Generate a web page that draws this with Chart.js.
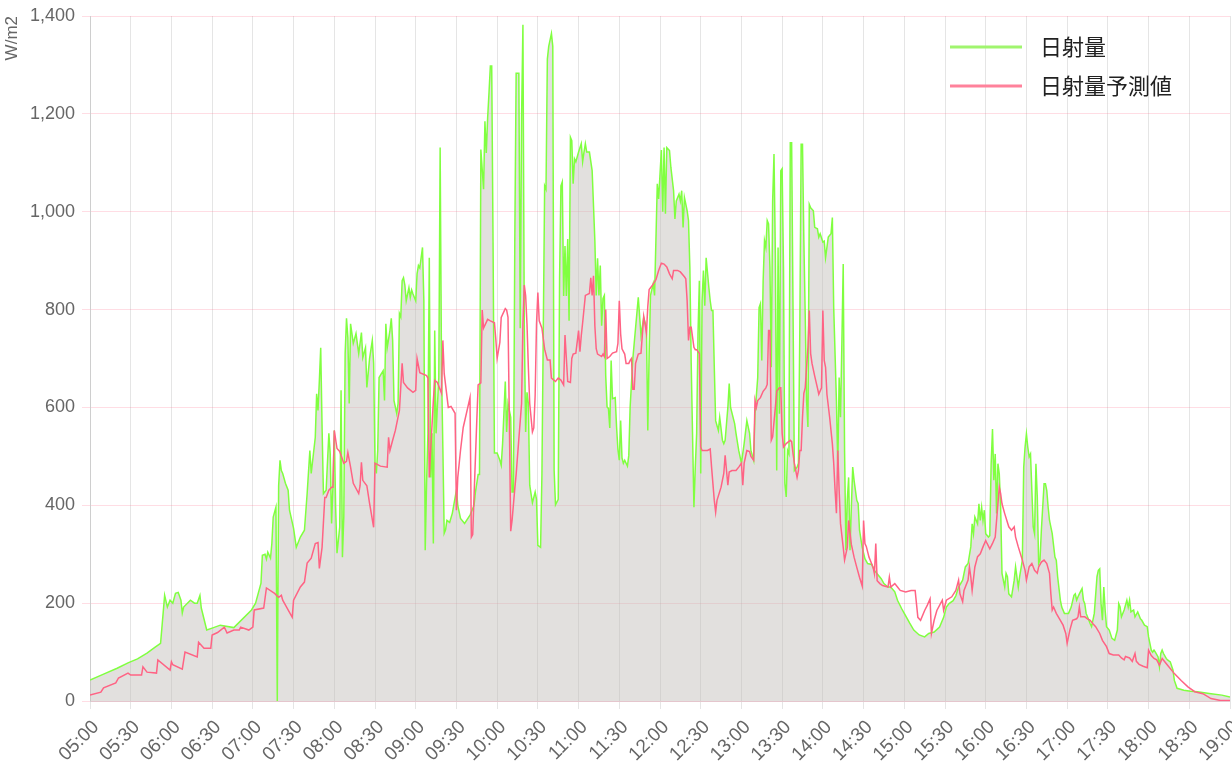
<!DOCTYPE html>
<html lang="ja">
<head>
<meta charset="utf-8">
<title>日射量</title>
<script src="https://cdn.jsdelivr.net/npm/chart.js@4.4.1/dist/chart.umd.min.js"></script>
<style>
  html, body { margin: 0; padding: 0; background: #fff; }
</style>
</head>
<body>
<canvas id="chart" width="1232" height="773"></canvas>
<script>
// ---- données ----
const xTickLabels = ['05:00','05:30','06:00','06:30','07:00','07:30','08:00','08:30','09:00','09:30',
  '10:00','10:30','11:00','11:30','12:00','12:30','13:00','13:30','14:00','14:30',
  '15:00','15:30','16:00','16:30','17:00','17:30','18:00','18:30','19:00'];
const yTickValues = [0, 200, 400, 600, 800, 1000, 1200, 1400];

// 日射量 (mesure)
const measuredTimes = [
  '05:00','05:10','05:20','05:28','05:35','05:42','05:48','05:52','05:55','05:57','05:59','06:01','06:03','06:05','06:07','06:08',
  '06:09','06:14','06:17','06:19','06:21','06:22','06:26','06:30','06:36','06:46','06:59','07:02','07:06','07:07','07:09','07:10',
  '07:11','07:13','07:14','07:15','07:17','07:18','07:19','07:20','07:21','07:22','07:24','07:26','07:27','07:30','07:32','07:35',
  '07:38','07:40','07:42','07:43','07:46','07:47','07:48','07:49','07:50','07:51','07:52','07:54','07:56','07:57','07:58','07:59',
  '08:00','08:01','08:02','08:04','08:05','08:06','08:07','08:08','08:09','08:10','08:11','08:12','08:14','08:16','08:18','08:20',
  '08:21','08:23','08:24','08:26','08:28','08:29','08:30','08:31','08:32','08:33','08:36','08:37','08:38','08:39','08:41','08:42',
  '08:43','08:44','08:46','08:47','08:48','08:49','08:50','08:51','08:52','08:53','08:55','08:56','08:57','08:58','09:00','09:01',
  '09:02','09:03','09:05','09:06','09:07','09:08','09:09','09:10','09:11','09:12','09:13','09:14','09:15','09:17','09:18','09:19',
  '09:20','09:21','09:22','09:23','09:25','09:27','09:30','09:31','09:33','09:36','09:40','09:43','09:44','09:46','09:47','09:48',
  '09:50','09:51','09:52','09:53','09:54','09:55','09:56','09:57','09:58','10:00','10:02','10:03','10:04','10:06','10:07','10:08',
  '10:10','10:11','10:12','10:13','10:14','10:16','10:17','10:18','10:19','10:20','10:21','10:22','10:23','10:24','10:26','10:28',
  '10:29','10:30','10:32','10:33','10:35','10:36','10:37','10:38','10:40','10:41','10:42','10:43','10:45','10:46','10:47','10:48',
  '10:49','10:50','10:51','10:52','10:53','10:54','10:55','10:56','10:57','10:58','11:00','11:02','11:03','11:04','11:05','11:06',
  '11:08','11:10','11:12','11:13','11:14','11:15','11:16','11:17','11:18','11:19','11:20','11:21','11:22','11:23','11:24','11:25',
  '11:27','11:28','11:29','11:30','11:31','11:32','11:33','11:34','11:36','11:37','11:38','11:40','11:44','11:46','11:48','11:50',
  '11:51','11:52','11:53','11:55','11:56','11:58','11:59','12:01','12:02','12:03','12:04','12:05','12:07','12:08','12:10','12:11',
  '12:12','12:14','12:15','12:16','12:17','12:18','12:20','12:21','12:22','12:23','12:25','12:26','12:27','12:28','12:29','12:30',
  '12:31','12:32','12:33','12:34','12:36','12:37','12:38','12:39','12:40','12:41','12:43','12:44','12:46','12:47','12:48','12:50',
  '12:51','12:52','12:55','12:56','12:58','13:00','13:02','13:04','13:06','13:07','13:09','13:10','13:12','13:13','13:14','13:15',
  '13:16','13:17','13:18','13:19','13:20','13:21','13:22','13:23','13:24','13:25','13:26','13:27','13:28','13:29','13:30','13:31',
  '13:32','13:33','13:34','13:35','13:36','13:37','13:38','13:39','13:41','13:42','13:43','13:44','13:45','13:46','13:47','13:48',
  '13:49','13:50','13:51','13:53','13:54','13:56','13:57','13:58','14:00','14:01','14:02','14:04','14:06','14:07','14:08','14:10',
  '14:11','14:12','14:13','14:14','14:15','14:16','14:17','14:18','14:19','14:20','14:21','14:22','14:23','14:25','14:26','14:27',
  '14:29','14:31','14:33','14:36','14:38','14:40','14:43','14:45','14:48','14:50','14:53','14:55','14:58','15:00','15:04','15:07',
  '15:11','15:15','15:18','15:22','15:26','15:29','15:31','15:33','15:36','15:38','15:40','15:43','15:45','15:47','15:49','15:50',
  '15:51','15:52','15:54','15:55','15:56','15:57','15:58','15:59','16:00','16:02','16:03','16:04','16:05','16:06','16:07','16:08',
  '16:09','16:10','16:11','16:12','16:14','16:15','16:16','16:17','16:19','16:21','16:22','16:24','16:25','16:27','16:28','16:29',
  '16:30','16:31','16:32','16:33','16:35','16:36','16:37','16:38','16:39','16:40','16:41','16:43','16:44','16:45','16:46','16:47',
  '16:49','16:51','16:52','16:53','16:55','16:56','16:58','17:01','17:03','17:05','17:06','17:07','17:08','17:09','17:11','17:12',
  '17:13','17:14','17:15','17:17','17:18','17:20','17:22','17:23','17:24','17:25','17:26','17:27','17:28','17:29','17:31','17:33',
  '17:35','17:37','17:38','17:39','17:40','17:42','17:44','17:45','17:46','17:47','17:49','17:50','17:52','17:54','17:55','17:57',
  '17:59','18:00','18:02','18:03','18:04','18:05','18:07','18:08','18:09','18:10','18:11','18:13','18:14','18:16','18:18','18:19',
  '18:21','18:26','18:31','18:36','18:41','18:46','18:54','19:00'
];
const measuredValues = [
  43,55,67,78,86,98,110,118,216,192,206,200,220,222,206,180,
  192,206,200,200,216,190,145,149,155,150,186,200,241,298,300,290,
  304,292,322,376,396,0,440,492,471,465,445,431,390,353,314,335,
  349,424,512,465,539,628,594,655,722,560,424,431,547,506,363,437,
  553,396,302,355,635,294,376,710,782,743,608,771,731,751,710,753,
  702,722,641,700,737,690,486,465,512,661,675,614,771,722,757,782,
  737,614,588,608,792,785,859,865,850,818,845,825,840,832,818,873,
  890,885,927,818,308,445,547,906,457,547,322,757,547,661,1131,682,
  518,343,350,369,365,384,431,400,373,363,380,400,427,463,463,1127,
  1046,1185,1120,1192,1243,1298,1298,930,507,507,492,482,525,653,550,608,
  580,427,427,937,1283,1283,762,1192,1382,769,550,631,608,441,405,427,
  412,318,314,463,1053,1046,1312,1338,1364,1338,471,401,412,864,1053,1061,
  828,930,828,944,777,1152,1145,1057,1108,1102,1122,1139,1102,1122,1139,1122,
  1122,1084,941,829,905,829,890,767,823,829,665,601,598,558,696,618,
  620,560,514,492,573,497,486,492,480,502,601,700,825,747,784,763,
  553,710,829,853,829,1057,1026,1126,1000,1131,996,1131,1125,1091,1043,985,
  1022,1036,1022,1043,968,1029,1002,982,886,690,396,478,547,751,859,465,
  818,880,808,906,845,818,798,798,682,573,553,580,533,526,533,600,
  649,600,567,547,512,486,526,573,547,512,492,587,661,804,812,696,
  859,941,927,982,975,886,682,1022,1118,913,471,927,587,1084,1088,886,
  445,417,512,505,1141,1141,808,471,478,486,751,1138,1138,941,791,614,
  560,1015,1008,1002,968,965,948,955,938,940,906,948,955,988,804,614,
  478,661,580,730,893,512,308,410,457,308,396,478,451,410,404,349,
  314,291,281,279,267,260,250,240,233,233,223,206,189,179,159,145,
  135,131,138,141,151,171,192,199,205,215,233,247,274,281,315,362,
  342,376,362,403,369,396,369,390,342,335,338,485,556,451,505,383,
  485,464,396,261,233,261,254,219,213,247,274,233,254,288,478,519,
  546,519,499,505,356,342,485,417,281,288,349,444,444,430,396,369,
  342,294,288,254,206,192,179,179,192,216,219,206,213,219,230,206,
  199,179,172,158,152,179,254,267,270,199,165,233,186,152,145,128,
  124,145,199,192,172,186,206,192,206,182,186,172,182,168,165,155,
  152,131,104,100,104,100,90,70,97,104,97,87,84,80,63,42,
  26,22,20,19,17,15,12,8
];

// 日射量予測値 (prévision)
const forecastTimes = [
  '05:00','05:08','05:10','05:19','05:21','05:28','05:30','05:38','05:39','05:42','05:49','05:50','05:59','06:00','06:01','06:08',
  '06:10','06:19','06:20','06:24','06:29','06:30','06:34','06:39','06:41','06:46','06:50','06:51','06:57','07:00','07:01','07:08',
  '07:10','07:16','07:19','07:21','07:22','07:29','07:30','07:35','07:38','07:40','07:43','07:46','07:48','07:49','07:51','07:53',
  '07:54','07:56','07:58','07:59','08:00','08:02','08:04','08:07','08:09','08:10','08:12','08:14','08:18','08:19','08:20','08:21',
  '08:24','08:26','08:29','08:30','08:34','08:39','08:40','08:41','08:43','08:45','08:48','08:50','08:51','08:54','08:58','09:00',
  '09:01','09:03','09:08','09:09','09:10','09:11','09:13','09:14','09:16','09:19','09:20','09:21','09:24','09:26','09:29','09:30',
  '09:31','09:33','09:35','09:40','09:41','09:42','09:43','09:45','09:46','09:48','09:49','09:50','09:53','09:55','09:58','09:59',
  '10:00','10:02','10:03','10:06','10:07','10:08','10:09','10:10','10:11','10:13','10:14','10:16','10:18','10:19','10:20','10:21',
  '10:22','10:23','10:24','10:26','10:27','10:28','10:29','10:30','10:31','10:33','10:35','10:37','10:39','10:40','10:43','10:45',
  '10:47','10:49','10:50','10:52','10:54','10:55','10:56','10:58','11:00','11:01','11:02','11:03','11:05','11:08','11:09','11:10',
  '11:11','11:12','11:13','11:14','11:17','11:18','11:19','11:20','11:21','11:23','11:25','11:28','11:29','11:30','11:31','11:32',
  '11:34','11:35','11:37','11:38','11:39','11:40','11:41','11:42','11:44','11:46','11:48','11:50','11:51','11:52','11:54','11:57',
  '11:59','12:01','12:03','12:05','12:07','12:09','12:10','12:13','12:15','12:18','12:19','12:20','12:21','12:22','12:23','12:25',
  '12:26','12:27','12:29','12:30','12:31','12:35','12:37','12:38','12:40','12:41','12:42','12:45','12:47','12:48','12:50','12:51',
  '12:53','12:56','12:58','13:00','13:01','13:02','13:04','13:06','13:07','13:09','13:10','13:11','13:12','13:14','13:16','13:18',
  '13:19','13:20','13:21','13:22','13:23','13:25','13:26','13:28','13:29','13:30','13:31','13:33','13:36','13:37','13:38','13:39',
  '13:41','13:42','13:43','13:44','13:45','13:46','13:47','13:49','13:50','13:51','13:52','13:54','13:56','13:57','13:59','14:00',
  '14:01','14:02','14:03','14:05','14:07','14:08','14:09','14:10','14:11','14:12','14:13','14:15','14:16','14:18','14:19','14:21',
  '14:23','14:25','14:27','14:29','14:30','14:31','14:32','14:34','14:35','14:37','14:38','14:39','14:40','14:42','14:44','14:48',
  '14:49','14:50','14:53','14:55','14:57','15:01','15:05','15:08','15:10','15:12','15:15','15:17','15:19','15:20','15:22','15:24',
  '15:28','15:29','15:31','15:35','15:38','15:40','15:41','15:43','15:44','15:47','15:48','15:49','15:50','15:52','15:54','15:56',
  '15:58','16:00','16:01','16:03','16:05','16:07','16:08','16:10','16:11','16:12','16:14','16:17','16:19','16:21','16:22','16:24',
  '16:27','16:29','16:30','16:32','16:34','16:36','16:38','16:39','16:41','16:43','16:45','16:47','16:48','16:49','16:50','16:52',
  '16:55','16:57','16:59','17:00','17:02','17:04','17:07','17:08','17:09','17:10','17:13','17:15','17:17','17:19','17:21','17:24',
  '17:26','17:29','17:31','17:34','17:38','17:40','17:42','17:43','17:46','17:48','17:50','17:51','17:53','17:56','17:59','18:00',
  '18:02','18:04','18:06','18:08','18:10','18:14','18:19','18:24','18:29','18:34','18:40','18:46','18:53','19:00'
];
const forecastValues = [
  12,18,27,37,47,57,53,53,70,59,57,84,63,80,74,65,
  100,90,120,108,108,135,140,151,139,145,145,151,145,151,186,190,
  231,220,212,216,206,171,206,233,243,282,292,322,324,271,314,416,
  416,431,437,437,553,516,510,486,490,508,478,445,424,440,488,451,
  440,404,355,486,480,478,539,512,533,553,594,690,651,640,631,635,
  700,671,665,660,457,512,614,655,651,629,737,669,600,602,588,390,
  457,512,559,620,335,340,420,573,646,650,799,762,780,777,773,740,
  700,733,784,802,799,784,573,347,369,434,463,536,608,770,850,828,
  770,682,608,550,558,624,770,835,777,762,719,697,697,660,653,660,
  656,646,748,653,651,700,709,711,757,714,747,773,829,833,865,829,
  869,767,720,709,704,709,704,800,700,704,711,714,731,818,750,720,
  709,690,690,696,700,637,637,690,709,711,786,752,806,841,848,861,
  880,895,893,887,873,863,880,880,877,867,863,818,737,764,764,723,
  718,718,710,519,512,512,515,478,410,386,410,437,465,502,441,468,
  471,471,478,486,441,486,512,510,500,492,614,600,614,620,633,640,
  647,757,757,533,540,600,633,640,640,547,519,526,533,530,506,486,
  457,471,512,512,580,629,640,723,798,710,690,664,640,627,640,798,
  696,682,627,580,526,486,431,384,512,431,363,314,288,314,369,320,
  294,273,253,235,369,322,316,294,287,273,260,322,246,240,236,233,
  253,233,240,233,226,223,226,226,171,165,185,196,209,138,165,185,
  206,185,206,213,226,247,219,203,226,247,274,254,226,274,295,301,
  315,328,322,311,322,335,369,437,424,403,383,356,349,356,335,315,
  288,267,247,274,281,267,261,274,284,288,281,261,219,186,192,179,
  165,155,138,118,145,165,168,172,192,172,172,168,165,158,152,138,
  124,111,97,94,94,88,84,91,88,81,97,81,75,71,68,104,
  93,87,84,73,87,73,56,42,29,19,15,5,1,1
];

// "HH:MM" -> minutes
function toMinutes(hhmm) {
    const [h, m] = hhmm.split(':').map(Number);
    return h * 60 + m;
}
function toLabel(min) {
    const h = Math.floor(min / 60);
    const m = Math.round(min % 60);
    return String(h).padStart(2, '0') + ':' + String(m).padStart(2, '0');
}
function toPoints(times, values) {
    return times.map((t, i) => ({ x: toMinutes(t), y: values[i] }));
}

const GREEN = 'rgb(128, 255, 64)';
const PINK = 'rgb(255, 99, 132)';

// légende dessinée dans la zone du graphique (empilée, en haut à droite)
const legendInArea = {
    id: 'legendInArea',
    afterDraw(chart) {
        const ctx = chart.ctx;
        const area = chart.chartArea;
        const x0 = area.right - 280;
        const items = [
            { text: '日射量', color: 'rgb(160, 245, 110)', y: area.top + 31 },
            { text: '日射量予測値', color: 'rgb(255, 130, 155)', y: area.top + 70 }
        ];
        ctx.save();
        ctx.font = "22px 'Noto Sans CJK JP', sans-serif";
        ctx.textBaseline = 'middle';
        items.forEach(item => {
            ctx.strokeStyle = item.color;
            ctx.lineWidth = 3;
            ctx.beginPath();
            ctx.moveTo(x0, item.y);
            ctx.lineTo(x0 + 72, item.y);
            ctx.stroke();
            ctx.fillStyle = '#222';
            ctx.fillText(item.text, x0 + 90, item.y);
        });
        ctx.restore();
    }
};

Chart.defaults.font.family = "'Helvetica Neue', Helvetica, Arial, 'Noto Sans CJK JP', sans-serif";
Chart.defaults.color = '#666';

new Chart(document.getElementById('chart'), {
    type: 'line',
    data: {
        datasets: [
            {
                label: '日射量',
                data: toPoints(measuredTimes, measuredValues),
                borderColor: GREEN,
                backgroundColor: 'rgba(190, 186, 182, 0.45)',
                borderWidth: 1.5,
                fill: 'origin',
                pointRadius: 0,
                tension: 0,
                order: 1
            },
            {
                label: '日射量予測値',
                data: toPoints(forecastTimes, forecastValues),
                borderColor: PINK,
                backgroundColor: PINK,
                borderWidth: 1.5,
                fill: false,
                pointRadius: 0,
                tension: 0,
                order: 0
            }
        ]
    },
    options: {
        responsive: false,
        animation: false,
        layout: { padding: { top: 16, right: 2, left: 0, bottom: 0 } },
        plugins: {
            legend: { display: false },
            tooltip: { enabled: false }
        },
        scales: {
            x: {
                type: 'linear',
                min: toMinutes(xTickLabels[0]),
                max: toMinutes(xTickLabels[xTickLabels.length - 1]),
                afterBuildTicks: axis => {
                    axis.ticks = xTickLabels.map(t => ({ value: toMinutes(t) }));
                },
                afterFit: axis => {
                    // hauteur de l'axe comme sur l'original, sans marge à droite
                    axis.height = 72;
                    axis.paddingLeft = 0;
                    axis.paddingRight = 0;
                },
                ticks: {
                    autoSkip: false,
                    maxRotation: 45,
                    minRotation: 45,
                    labelOffset: 6,
                    padding: 7,
                    font: { size: 19 },
                    callback: v => toLabel(v)
                },
                grid: { color: 'rgba(0, 0, 0, 0.1)' }
            },
            y: {
                min: yTickValues[0],
                max: yTickValues[yTickValues.length - 1],
                afterBuildTicks: axis => {
                    axis.ticks = yTickValues.map(v => ({ value: v }));
                },
                afterFit: axis => {
                    axis.width = 90;
                    axis.paddingTop = 0;
                    axis.paddingBottom = 0;
                },
                ticks: {
                    font: { size: 18 },
                    padding: 7,
                    callback: v => v.toLocaleString('en-US')
                },
                grid: { color: 'rgba(255, 99, 132, 0.22)' },
                title: {
                    display: true,
                    text: 'W/m2',
                    align: 'end',
                    font: { size: 17 },
                    padding: { top: 2, bottom: 2 }
                }
            }
        }
    },
    plugins: [legendInArea]
});
</script>
</body>
</html>
